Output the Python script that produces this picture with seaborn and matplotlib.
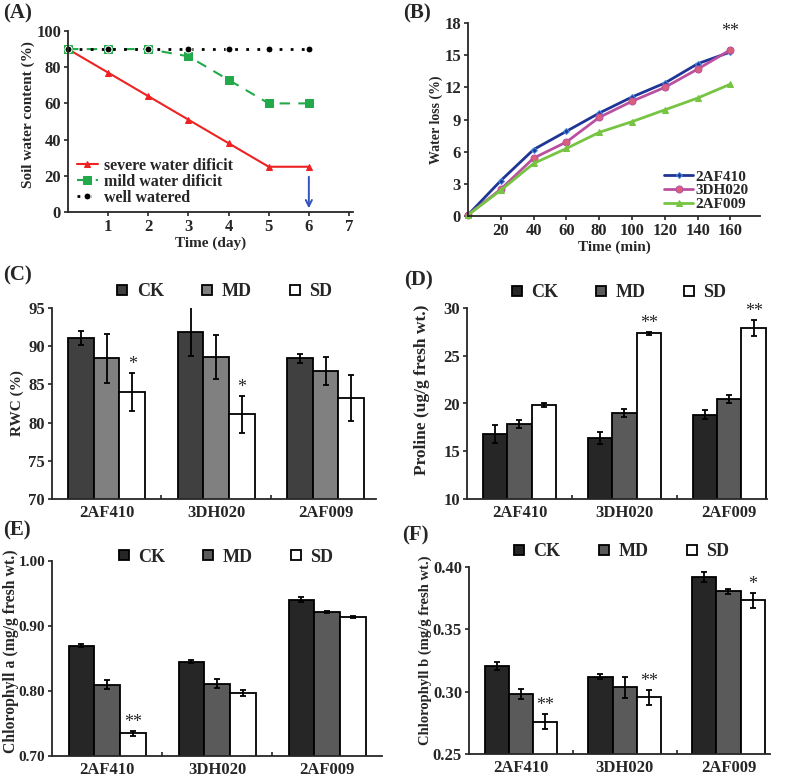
import numpy as np
import pandas as pd
import matplotlib
matplotlib.use("Agg")
import matplotlib.pyplot as plt
import seaborn as sns
from matplotlib.lines import Line2D

# (A) soil water content
days = [0, 1, 2, 3, 4, 5, 6]
severe = [90, 77, 64, 51, 38, 25, 25]
mild = [90, 90, 90, 86, 73, 60, 60]
well = [90, 90, 90, 90, 90, 90, 90]

# (B) water loss
minutes = [0, 20, 40, 60, 80, 100, 120, 140, 160]
wl_2AF410 = [0.1, 3.3, 6.2, 7.9, 9.6, 11.1, 12.4, 14.2, 15.3]
wl_3DH020 = [0.1, 2.5, 5.4, 6.9, 9.2, 10.7, 12.0, 13.7, 15.5]
wl_2AF009 = [0.1, 2.4, 4.9, 6.3, 7.8, 8.8, 9.9, 11.0, 12.3]

genotypes = ["2AF410", "3DH020", "2AF009"]
treatments = ["CK", "MD", "SD"]

# (C) RWC
rwc_ck = [91.1, 91.9, 88.4]
rwc_md = [88.4, 88.6, 86.75]
rwc_sd = [84.05, 81.1, 83.2]
rwc_ck_err = [0.94, 3.2, 0.55]
rwc_md_err = [3.2, 2.84, 1.8]
rwc_sd_err = [2.5, 2.4, 3.0]
rwc_sig = {("2AF410", "SD"): "*", ("3DH020", "SD"): "*"}

# (D) proline
pro_ck = [16.8, 16.4, 18.8]
pro_md = [17.82, 19.0, 20.47]
pro_sd = [19.84, 27.33, 27.87]
pro_ck_err = [0.9, 0.6, 0.47]
pro_md_err = [0.43, 0.45, 0.47]
pro_sd_err = [0.24, 0.15, 0.84]
pro_sig = {("3DH020", "SD"): "**", ("2AF009", "SD"): "**"}

# (E) chlorophyll a
cha_ck = [0.870, 0.845, 0.9405]
cha_md = [0.810, 0.811, 0.9215]
cha_sd = [0.735, 0.797, 0.914]
cha_ck_err = [0.003, 0.002, 0.004]
cha_md_err = [0.007, 0.007, 0.002]
cha_sd_err = [0.004, 0.004, 0.002]
cha_sig = {("2AF410", "SD"): "**"}

# (F) chlorophyll b
chb_ck = [0.3205, 0.312, 0.392]
chb_md = [0.298, 0.3035, 0.3807]
chb_sd = [0.276, 0.2955, 0.3733]
chb_ck_err = [0.0035, 0.002, 0.004]
chb_md_err = [0.004, 0.0084, 0.002]
chb_sd_err = [0.006, 0.006, 0.006]
chb_sig = {("2AF410", "SD"): "**", ("3DH020", "SD"): "**", ("2AF009", "SD"): "*"}

sns.set_style("ticks")
plt.rcParams['font.family'] = ['Liberation Serif', 'DejaVu Serif']
plt.rcParams['font.weight'] = 'bold'
plt.rcParams['axes.labelweight'] = 'bold'
plt.rcParams['font.size'] = 11
plt.rcParams['axes.linewidth'] = 1.3
plt.rcParams['xtick.major.width'] = 1.2
plt.rcParams['ytick.major.width'] = 1.2
plt.rcParams['xtick.minor.width'] = 1.2

W, H = 787, 777
fig = plt.figure(figsize=(W / 100, H / 100), dpi=100)


def box(left, top, right, bottom):
    return [left / W, 1 - bottom / H, (right - left) / W, (bottom - top) / H]


def style_axes(ax, ysize=12):
    sns.despine(ax=ax)
    ax.tick_params(axis='both', labelsize=12, length=3, direction='out', pad=2)
    ax.tick_params(axis='y', labelsize=ysize)
    for lab in ax.get_xticklabels() + ax.get_yticklabels():
        lab.set_fontweight('bold')


# ---- (A) ----
axA = fig.add_axes(box(68, 31, 353, 212))
sns.lineplot(x=days, y=severe, ax=axA, color='#ee2222', marker='^', markersize=5,
             markeredgecolor='#ee2222', linewidth=1.5, label='severe water dificit', clip_on=False)
sns.lineplot(x=days, y=mild, ax=axA, color='#22aa4a', marker='s', markersize=6,
             markeredgecolor='#22aa4a', linewidth=1.5, linestyle=(0, (5, 4)),
             label='mild water dificit', clip_on=False)
sns.lineplot(x=days, y=well, ax=axA, color='black', marker='o', markersize=5,
             linewidth=2, linestyle=(0, (1, 3)), label='well watered', clip_on=False)
axA.annotate('', xy=(6, 0.5), xytext=(6, 21),
             arrowprops=dict(arrowstyle='->', color='#3352bb', lw=1.4))
axA.set_xlim(0, 7.1)
axA.set_ylim(0, 100)
axA.set_xticks([1, 2, 3, 4, 5, 6, 7])
axA.set_yticks([0, 20, 40, 60, 80, 100])
axA.set_xlabel('Time (day)', fontsize=11, labelpad=1)
axA.set_ylabel('Soil water content (%)', fontsize=11)
axA.yaxis.set_label_coords(-0.116, 0.54)
axA.legend(loc='lower left', bbox_to_anchor=(9 / 285, 0.035), frameon=False, fontsize=11.5,
           handlelength=1.3, labelspacing=0.0, handletextpad=0.4, borderaxespad=0,
           borderpad=0)
style_axes(axA)

# ---- (B) ----
axB = fig.add_axes(box(468, 23, 760, 216))
sns.lineplot(x=minutes, y=wl_2AF410, ax=axB, color='#1f3596', marker='D', markersize=3,
             markeredgecolor='#4a8ee0', linewidth=2, label='2AF410', clip_on=False)
sns.lineplot(x=minutes, y=wl_3DH020, ax=axB, color='#bb4fa0', marker='o', markersize=5,
             markerfacecolor='#d9607c', markeredgecolor='#bb4fa0', linewidth=2, label='3DH020',
             clip_on=False)
sns.lineplot(x=minutes, y=wl_2AF009, ax=axB, color='#76c442', marker='^', markersize=5,
             markeredgecolor='#76c442', linewidth=2, label='2AF009', clip_on=False)
axB.annotate('**', xy=(minutes[-1], wl_3DH020[-1]), xytext=(0, 7), textcoords='offset points',
             ha='center', va='bottom', fontsize=13, fontweight='normal')
axB.set_xlim(0, 178)
axB.set_ylim(0, 18)
axB.set_xticks([20, 40, 60, 80, 100, 120, 140, 160])
axB.set_yticks([0, 3, 6, 9, 12, 15, 18])
axB.set_xlabel('Time (min)', fontsize=11, labelpad=1)
axB.set_ylabel('Water loss (%)', fontsize=10)
axB.yaxis.set_label_coords(-0.086, 0.5)
axB.legend(loc='lower left', bbox_to_anchor=(196 / 292, 0.025), frameon=False, fontsize=11,
           handlelength=1.9, labelspacing=0.0, handletextpad=0.15, borderaxespad=0,
           borderpad=0)
style_axes(axB)


def bar_panel(ax, means, errs, palette, ylim, yticks, ylabel, fmt, sig, xright, leg_x, leg_dy,
              label_xy, ysize=12, lsize=11):
    rows = []
    for t, vals in zip(treatments, means):
        for g, v in zip(genotypes, vals):
            rows.append({'genotype': g, 'treatment': t, 'value': v})
    df = pd.DataFrame(rows)
    sns.barplot(data=df, x='genotype', y='value', hue='treatment', order=genotypes,
                hue_order=treatments, palette=palette, edgecolor='black', linewidth=1.3,
                width=0.7, errorbar=None, legend=False, ax=ax)
    for t, cont, err in zip(treatments, ax.containers, errs):
        xs = [p.get_x() + p.get_width() / 2 for p in cont.patches]
        ys = [p.get_height() for p in cont.patches]
        ax.errorbar(xs, ys, yerr=err, fmt='none', ecolor='black', elinewidth=1.3,
                    capsize=2, capthick=1.3, zorder=5)
        for i, g in enumerate(genotypes):
            mark = sig.get((g, t))
            if mark:
                ax.annotate(mark, xy=(xs[i], ys[i] + err[i]), xytext=(0, 0),
                            textcoords='offset points', ha='center', va='bottom',
                            fontsize=13, fontweight='normal')
    ax.set_ylim(*ylim)
    ax.set_yticks(yticks)
    ax.set_yticklabels([fmt.format(v) for v in yticks])
    ax.set_xlim(-0.5, xright)
    ax.set_xticks([0.5, 1.5], minor=True)
    ax.set_xlabel('')
    ax.set_ylabel(ylabel, fontsize=lsize)
    ax.yaxis.set_label_coords(*label_xy)
    style_axes(ax, ysize)
    ax.tick_params(axis='x', which='major', length=0, pad=4)
    ax.tick_params(axis='x', which='minor', length=3, direction='in')
    handles = [Line2D([], [], marker='s', linestyle='none', markersize=7.5,
                      markerfacecolor=c, markeredgecolor='black', markeredgewidth=1.3)
               for c in palette]
    bb = ax.get_position()
    ax.legend(handles, treatments, loc='center', ncol=3, frameon=False, fontsize=13,
              bbox_to_anchor=(leg_x, 1 + leg_dy / (bb.height * H)), columnspacing=2.0,
              handlelength=0.8, handletextpad=0.4, borderaxespad=0, borderpad=0)


pal_c = ['#404040', '#808080', 'white']
pal_d = ['#262626', '#5a5a5a', 'white']

axC = fig.add_axes(box(52, 308, 376, 499))
bar_panel(axC, [rwc_ck, rwc_md, rwc_sd], [rwc_ck_err, rwc_md_err, rwc_sd_err], pal_c,
          (70, 95), [70, 75, 80, 85, 90, 95], 'RWC (%)', '{:.0f}', rwc_sig, 2.46, 0.53, 16,
          (-0.085, 0.5))

axD = fig.add_axes(box(467, 308, 767, 499))
bar_panel(axD, [pro_ck, pro_md, pro_sd], [pro_ck_err, pro_md_err, pro_sd_err], pal_d,
          (10, 30), [10, 15, 20, 25, 30], 'Proline (ug/g fresh wt.)', '{:.0f}', pro_sig,
          2.36, 0.503, 15, (-0.123, 0.57), lsize=12.5)

axE = fig.add_axes(box(52, 561, 382, 756))
bar_panel(axE, [cha_ck, cha_md, cha_sd], [cha_ck_err, cha_md_err, cha_sd_err], pal_d,
          (0.70, 1.00), [0.70, 0.80, 0.90, 1.00], 'Chlorophyll a (mg/g fresh wt.)', '{:.2f}',
          cha_sig, 2.5, 0.524, 4, (-0.1, 0.54), ysize=11, lsize=11.3)

axF = fig.add_axes(box(469, 567, 770, 754))
bar_panel(axF, [chb_ck, chb_md, chb_sd], [chb_ck_err, chb_md_err, chb_sd_err], pal_d,
          (0.25, 0.40), [0.25, 0.30, 0.35, 0.40], 'Chlorophyll b (mg/g fresh wt.)', '{:.2f}',
          chb_sig, 2.4, 0.503, 15, (-0.123, 0.556), ysize=12, lsize=10.5)

for lab, x, y in [('(A)', 3, 13), ('(B)', 403, 13), ('(C)', 3, 275),
                  ('(D)', 404, 280), ('(E)', 3, 530), ('(F)', 402, 535)]:
    fig.text(x / W, 1 - y / H, lab, fontsize=15, fontweight='bold', va='center', ha='left')

fig.savefig('out.png', dpi=100)
